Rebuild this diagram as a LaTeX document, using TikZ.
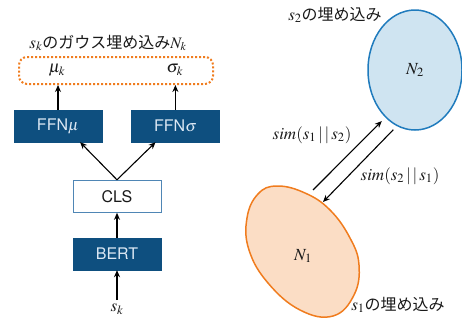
\documentclass[tikz,border=0pt]{standalone}
\usepackage{mathptmx}
\usepackage[no-math]{fontspec}
\setsansfont{TeX Gyre Heros}
\newfontfamily\jp{Noto Sans CJK JP}
\usetikzlibrary{positioning,arrows.meta,calc,shapes.geometric}
\definecolor{navy}{HTML}{0E4F7F}
\definecolor{navytext}{HTML}{DCE8F4}
\definecolor{clsline}{HTML}{4F86B5}
\definecolor{orange}{HTML}{F07C1E}
\definecolor{peach}{HTML}{FBDDC5}
\definecolor{blue}{HTML}{1F7BBD}
\definecolor{skytint}{HTML}{CFE4F1}
\definecolor{ink}{HTML}{1A1A1A}
\tikzset{
  box/.style={draw=navy, fill=navy, text=navytext, minimum width=88pt, minimum height=32pt,
    inner sep=0pt, font=\sffamily\fontsize{16pt}{18pt}\selectfont},
  wbox/.style={box, draw=clsline, line width=1pt, fill=white, text=ink},
  arr/.style={-{Stealth[length=7pt,width=6pt]}, line width=1.1pt, color=black},
  lab/.style={font=\fontsize{17pt}{19pt}\selectfont, text=ink},
}

\begin{document}
\begin{tikzpicture}[x=1pt,y=-1pt]
    \useasboundingbox (0,0) rectangle (462,327);
    % 左: エンコーダ
    \node[box] (bert) at (117,254) {BERT};
    \node[wbox, above=25pt of bert] (cls) {CLS};
    \node[box] (ffnmu) at (58,126) {FFN$\mu$};
    \node[box, right=29pt of ffnmu] (ffnsig) {FFN$\sigma$};
    \node[lab, draw=orange, line width=2pt, dotted, rounded corners=8pt, minimum width=194pt,
      minimum height=27pt, inner sep=0pt] (gauss) at (116,70.5)
      {\makebox[20pt]{$\mu_k$}\hspace{98pt}\makebox[20pt]{$\sigma_k$}};
    \node[lab] (title) at (108,43) {$s_k$\jp\fontsize{16pt}{18pt}\selectfont のガウス埋め込み$N_k$};
    \node[lab] (sk) at (117,309) {$s_k$};
    \draw[arr] (sk) -- (bert);
    \draw[arr] (bert) -- (cls);
    \draw[arr] (cls.north) -- ($(ffnmu.south)!0.5!(ffnmu.south east)$);
    \draw[arr] (cls.north) -- ($(ffnsig.south)!0.45!(ffnsig.south west)$);
    \draw[arr] (ffnmu.north) -- (ffnmu.north |- gauss.south);
    \draw[arr] (ffnsig.north) -- (ffnsig.north |- gauss.south);
    % 右: 埋め込みの分布
    \node[ellipse, draw=blue, fill=skytint, line width=1.5pt, minimum width=94pt,
      minimum height=120pt, inner sep=0pt, lab] (n2) at (415,70) {$N_2$};
    \draw[draw=orange, fill=peach, line width=1.5pt] plot[smooth cycle, tension=0.7]
      coordinates {(277,186) (305,193) (330,210) (350,238) (359,265) (354,295)
        (333,316) (300,310) (268,283) (249,250) (247,218) (258,194)};
    \node[lab] (n1) at (303,256) {$N_1$};
    \node[lab] (emb2) at (335,15) {$s_2$\jp\fontsize{16pt}{18pt}\selectfont の埋め込み};
    \node[lab] (emb1) at (398,305) {$s_1$\jp\fontsize{16pt}{18pt}\selectfont の埋め込み};
    \coordinate (e1) at (313,190);
    \coordinate (e2) at (323,202);
    \draw[arr, shorten >=5pt] (e1) -- (n2.238);
    \draw[arr, shorten <=5pt] (n2.252) -- (e2);
    \node[lab] (sim12) at (312,135) {$sim(s_1\,|\,|\,s_2)$};
    \node[lab] (sim21) at (400,176) {$sim(s_2\,|\,|\,s_1)$};
\end{tikzpicture}
\end{document}
